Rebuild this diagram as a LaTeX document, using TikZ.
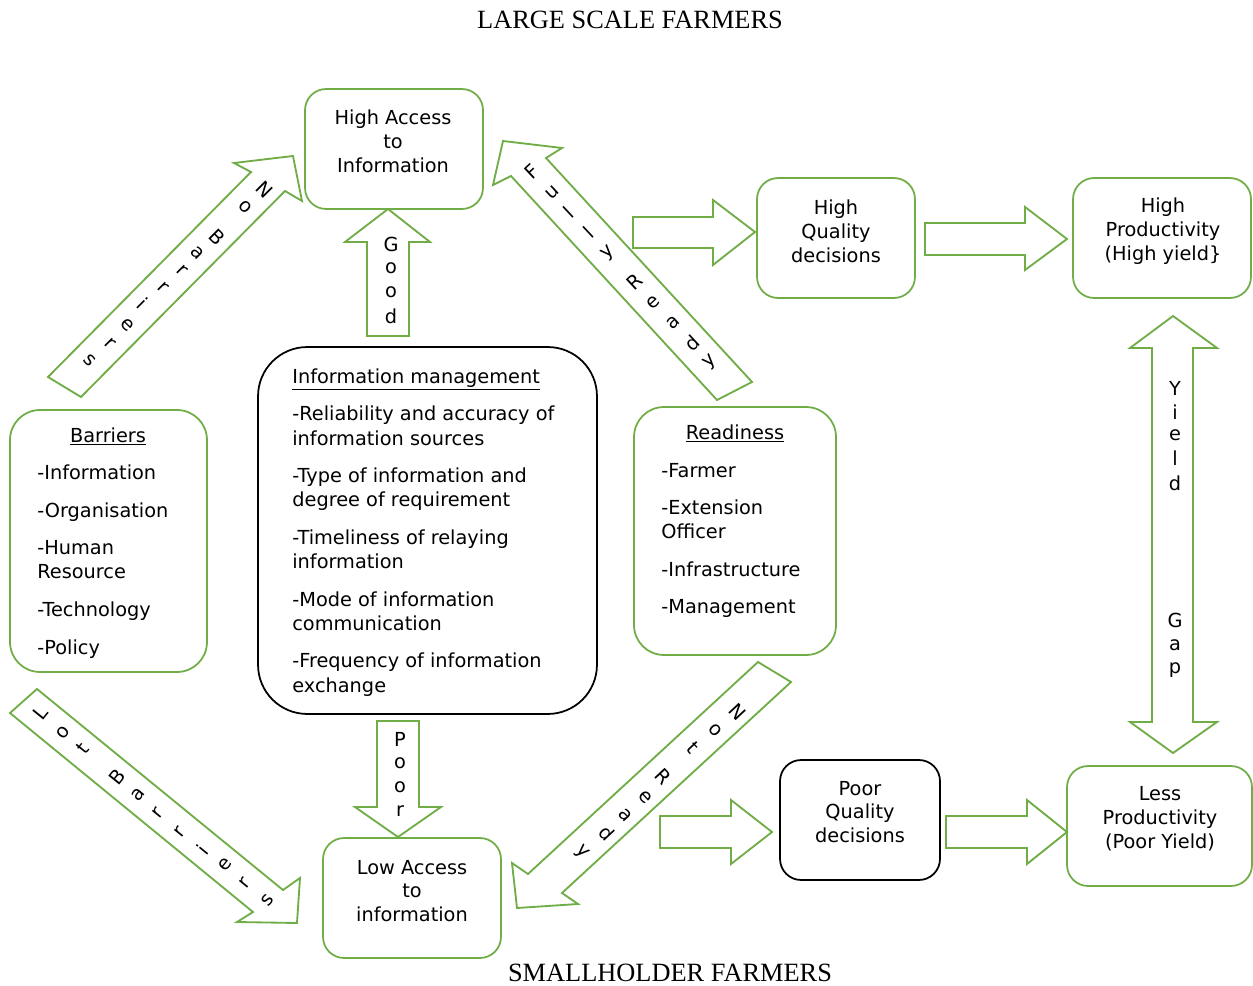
\documentclass[tikz,border=0pt]{standalone}
\usepackage{fontspec}
\setmainfont{DejaVu Sans}
\newfontfamily\titlefont{Liberation Serif}
\usetikzlibrary{calc}
\definecolor{ggreen}{RGB}{112,173,71}
\tikzset{
  gbox/.style={draw=ggreen, line width=1pt, rounded corners=12pt, fill=white, inner sep=0pt},
  kbox/.style={draw=black, line width=1pt, rounded corners=12pt, fill=white, inner sep=0pt},
  barrow/.style={draw=ggreen, line width=1.05pt, fill=white, line join=miter},
  txt/.style={font=\fontsize{11}{13.6}\selectfont, inner sep=0pt},
  ctxt/.style={txt, align=center},
  ltr/.style={font=\fontsize{11}{13.6}\selectfont, inner sep=0pt},
  ttl/.style={font=\titlefont\fontsize{15}{18}\selectfont, inner sep=0pt},
}
\begin{document}
\begin{tikzpicture}[x=0.02cm,y=-0.02cm]
\useasboundingbox (0,0) rectangle (1253,986);

% titles
\node[ttl] (t1) at (630,20) {LARGE SCALE FARMERS};
\node[ttl] (t2) at (670,973) {SMALLHOLDER FARMERS};

% boxes
\node[gbox, minimum width=3.56cm, minimum height=2.4cm] (hai) at (394,149) {};
\node[gbox, minimum width=3.16cm, minimum height=2.4cm] (hqd) at (836,238) {};
\node[gbox, minimum width=3.56cm, minimum height=2.4cm] (hp) at (1162,238) {};
\node[gbox, rounded corners=17pt, minimum width=3.94cm, minimum height=5.24cm] (bar) at (108.5,541) {};
\node[kbox, rounded corners=28pt, minimum width=6.78cm, minimum height=7.34cm] (im) at (427.5,530.5) {};
\node[gbox, rounded corners=17pt, minimum width=4.04cm, minimum height=4.96cm] (rd) at (735,531) {};
\node[gbox, minimum width=3.56cm, minimum height=2.4cm] (la) at (412,898) {};
\node[kbox, minimum width=3.2cm, minimum height=2.4cm] (pq) at (860,820) {};
\node[gbox, minimum width=3.7cm, minimum height=2.4cm] (lp) at (1159.5,826) {};

% box texts
\node[ctxt] (haiT) at (393,141) {High Access\\to\\Information};
\node[ctxt] (hqdT) at (836,231) {High\\Quality\\decisions};
\node[ctxt] (hpT) at (1163,231) {High\\Productivity\\(High yield\}};
\node[ctxt] (laT) at (412,891) {Low Access\\to\\information};
\node[ctxt] (pqT) at (860,812) {Poor\\Quality\\decisions};
\node[ctxt] (lpT) at (1160,819) {Less\\Productivity\\(Poor Yield)};

% Barriers list
\node[txt, anchor=base] (barH) at (108,442) {\underline{Barriers}};
\foreach \y/\t [count=\i] in {479/-Information, 517/-Organisation, 554/-Human, 578/Resource, 616/-Technology, 654/-Policy}
  \node[txt, anchor=base west] (barL\i) at (37,\y) {\t};

% Information management list
\node[txt, anchor=base west] (imH) at (292,383) {\underline{Information management}};
\foreach \y/\t [count=\i] in {420/-Reliability and accuracy of, 445/information sources, 482/-Type of information and, 506/degree of requirement, 544/-Timeliness of relaying, 568/information, 606/-Mode of information, 630/communication, 667/-Frequency of information, 692/exchange}
  \node[txt, anchor=base west] (imL\i) at (292,\y) {\t};

% Readiness list
\node[txt, anchor=base] (rdH) at (735,439) {\underline{Readiness}};
\foreach \y/\t [count=\i] in {477/-Farmer, 514/-Extension, 538/Officer, 576/-Infrastructure, 613/-Management}
  \node[txt, anchor=base west] (rdL\i) at (661,\y) {\t};

% horizontal block arrows
\draw[barrow] (633,217) -- (713,217) -- (713,200) -- (755,232) -- (713,265) -- (713,248) -- (633,248) -- cycle;
\draw[barrow] (925,223) -- (1025,223) -- (1025,207) -- (1067,239) -- (1025,270) -- (1025,255) -- (925,255) -- cycle;
\draw[barrow] (660,816) -- (731,816) -- (731,800) -- (772,832) -- (731,864) -- (731,848) -- (660,848) -- cycle;
\draw[barrow] (946,816) -- (1027,816) -- (1027,800) -- (1067,832) -- (1027,864) -- (1027,848) -- (946,848) -- cycle;

% vertical block arrows
\draw[barrow] (367,336) -- (367,242) -- (345,242) -- (388,209) -- (430,242) -- (409,242) -- (409,336) -- cycle;
\draw[barrow] (377,721) -- (377,807) -- (355,807) -- (398,837) -- (441,807) -- (419,807) -- (419,721) -- cycle;
\draw[barrow] (1173,316) -- (1217,348) -- (1193,348) -- (1193,722) -- (1217,722) -- (1173,753) -- (1130,722) -- (1152,722) -- (1152,348) -- (1130,348) -- cycle;

% diagonal block arrows
\draw[barrow] (48,377) -- (251,172) -- (234,163) -- (293,156) -- (302,201) -- (285,191) -- (81,397) -- cycle;
\draw[barrow] (717,400) -- (511,176) -- (493,185) -- (503,141) -- (562,148) -- (546,158) -- (752,382) -- cycle;
\draw[barrow] (37,689) -- (283,890) -- (300,878) -- (297,923) -- (237,922) -- (253,912) -- (10,713) -- cycle;
\draw[barrow] (758,662) -- (528,874) -- (512,863) -- (517,908) -- (578,904) -- (562,893) -- (791,682) -- cycle;

% arrow letters
\foreach \y/\l [count=\i] in {244/G, 268/o, 292/o, 316/d}
  \node[ltr] (good\i) at (391,\y) {\l};
\foreach \y/\l [count=\i] in {739/P, 763/o, 787/o, 811/r}
  \node[ltr] (poor\i) at (400,\y) {\l};
\foreach \y/\l [count=\i] in {388/Y, 412/i, 435/e, 458/l, 483/d, 620/G, 645/a, 670/p}
  \node[ltr] (yg\i) at (1175,\y) {\l};
\foreach \x/\y/\l [count=\i] in {265/190/N, 245/207/o, 217/237/B, 197/253/a, 182/270/r, 163/287/r, 143/303/i, 127/325/e, 110/343/r, 90/360/s}
  \node[ltr, rotate=-45] (nb\i) at (\x,\y) {\l};
\foreach \x/\y/\l [count=\i] in {532/172/F, 552/192/u, 568/212/l, 588/232/l, 608/253/y, 635/282/R, 653/303/e, 673/323/a, 692/343/d, 710/362/y}
  \node[ltr, rotate=43] (fr\i) at (\x,\y) {\l};
\foreach \x/\y/\l [count=\i] in {40/713/L, 63/733/o, 83/748/t, 117/777/B, 138/795/a, 158/813/r, 180/832/r, 202/850/i, 225/865/e, 245/883/r, 268/900/s}
  \node[ltr, rotate=51] (lb\i) at (\x,\y) {\l};
\foreach \x/\y/\l [count=\i] in {738/712/N, 715/730/o, 693/748/t, 663/777/R, 645/797/e, 625/815/a, 607/833/d, 582/852/y}
  \node[ltr, rotate=-47] (nr\i) at (\x,\y) {\l};
\end{tikzpicture}
\end{document}
